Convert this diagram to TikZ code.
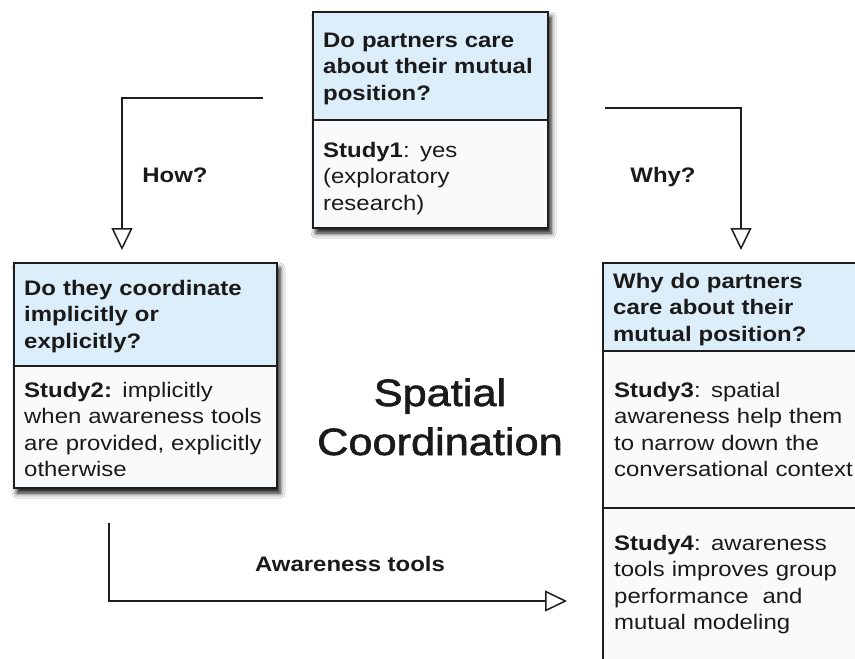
\documentclass[tikz,border=0pt]{standalone}
\usepackage{fontspec}
\setmainfont{Liberation Sans}[FakeStretch=1.14]
\newfontfamily\titlefont{Liberation Sans}[FakeStretch=1.14, FakeBold=1.6]
\usetikzlibrary{arrows.meta,shadows.blur}
\definecolor{hdr}{HTML}{DCEEF9}
\definecolor{bdy}{HTML}{F9FAFC}
\definecolor{ln}{HTML}{1E1E1E}
\definecolor{txt}{HTML}{1A1A1A}
\begin{document}
\begin{tikzpicture}[x=1pt,y=-1pt,
  frame/.style={draw=ln, line width=1.5pt, fill=bdy, anchor=north west, inner sep=0pt, outer sep=0pt},
  shadowed/.style={blur shadow={shadow xshift=3pt, shadow yshift=-5pt, shadow blur radius=5pt, shadow opacity=95}},
  hdrpart/.style={draw=ln, line width=1.5pt, fill=hdr, anchor=north west, inner sep=0pt, outer sep=0pt},
  hdrtxt/.style={anchor=base west, inner sep=0pt, text width=#1, align=left, text=txt,
    font=\fontsize{21}{26.6}\selectfont\bfseries},
  bdytxt/.style={anchor=base west, inner sep=0pt, text width=#1, align=left, text=txt,
    font=\fontsize{21}{26.6}\selectfont},
  lbl/.style={anchor=base, inner sep=0pt, text=txt, font=\fontsize{21}{26}\selectfont\bfseries},
  conn/.style={draw=ln, line width=1.5pt, -{Triangle[open, length=22pt, width=21pt]}}
]
\useasboundingbox (0,0) rectangle (855,659);
\fill[white] (0,0) rectangle (855,659);
\clip (0,0) rectangle (855,659);

% top box
\node[frame, shadowed, minimum width=235pt, minimum height=216pt] (b1) at (313,12) {};
\node[hdrpart, minimum width=235pt, minimum height=108pt] (h1) at (313,12) {};
\node[hdrtxt=220pt] (h1t) at (323,47) {Do partners care\\about their mutual\\position?};
\node[bdytxt=220pt] (s1t) at (323,157) {\textbf{Study1}: yes\\(exploratory\\research)};

% left box
\node[frame, shadowed, minimum width=263pt, minimum height=225pt] (b2) at (14,263) {};
\node[hdrpart, minimum width=263pt, minimum height=103pt] (h2) at (14,263) {};
\node[hdrtxt=250pt] (h2t) at (24,295) {Do they coordinate\\implicitly or\\explicitly?};
\node[bdytxt=250pt] (s2t) at (24,397) {\textbf{Study2:} implicitly\\when awareness tools\\are provided, explicitly\\otherwise};

% right box
\node[frame, minimum width=280pt, minimum height=440pt] (b3) at (603,263) {};
\node[hdrpart, minimum width=280pt, minimum height=88pt] (h3) at (603,263) {};
\draw[ln, line width=1.5pt] (603,508) -- (883,508);
\node[hdrtxt=240pt] (h3t) at (613,288) {Why do partners\\care about their\\mutual position?};
\node[bdytxt=240pt] (s3t) at (614,397) {\textbf{Study3}: spatial\\awareness help them\\to narrow down the\\conversational context};
\node[bdytxt=240pt] (s4t) at (614,550) {\textbf{Study4}: awareness\\tools improves group\\performance\ \ and\\mutual modeling};

% title
\node[anchor=base, inner sep=0pt, text width=320pt, align=center, text=txt,
  font=\titlefont\fontsize{38}{49}\selectfont] (title) at (440,406) {Spatial\\Coordination};

% connectors
\coordinate (howS) at (263,98);
\coordinate (howC) at (122,98);
\coordinate (howE) at (122,250);
\draw[conn] (howS) -- (howC) -- (howE);
\node[lbl] (how) at (175,182) {How?};

\coordinate (whyS) at (605,108);
\coordinate (whyC) at (741,108);
\coordinate (whyE) at (741,250);
\draw[conn] (whyS) -- (whyC) -- (whyE);
\node[lbl] (why) at (663,182) {Why?};

\coordinate (awS) at (109,523);
\coordinate (awC) at (109,601);
\coordinate (awE) at (567,601);
\draw[conn] (awS) -- (awC) -- (awE);
\node[lbl] (aw) at (350,571) {Awareness tools};
\end{tikzpicture}
\end{document}
